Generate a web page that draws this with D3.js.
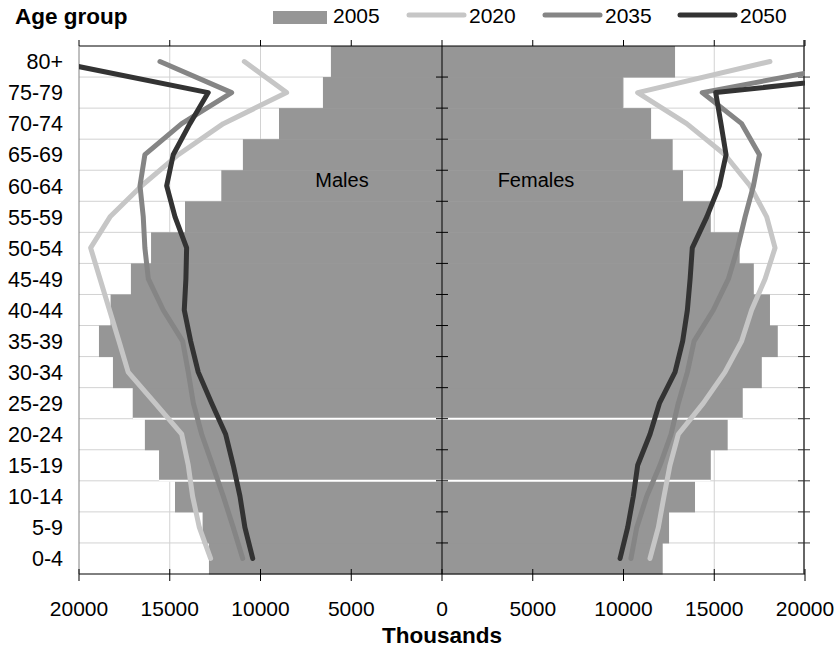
<!DOCTYPE html>
<html><head><meta charset="utf-8">
<script src="https://cdn.jsdelivr.net/npm/d3@7"></script>
<style>
body{margin:0;background:#fff;}
text{font-family:"Liberation Sans",Arial,sans-serif;}
</style></head>
<body><svg id="c" width="835" height="648"></svg>
<script>
const ages = ["0-4","5-9","10-14","15-19","20-24","25-29","30-34","35-39","40-44","45-49","50-54","55-59","60-64","65-69","70-74","75-79","80+"];
const male2005   = [12840,13190,14710,15590,16370,17040,18130,18900,18260,17140,16030,14160,12160,10970,8980,6560,6120];
const female2005 = [12160,12510,13940,14810,15740,16570,17620,18500,18070,17180,16400,14810,13280,12710,11520,9970,12840];
const male2020   = [12750,13370,13740,13980,14340,15810,17290,17800,18320,18840,19360,18290,16550,14530,12050,8560,10890];
const female2020 = [11460,11920,12230,12560,13020,14400,15590,16510,17060,17800,18350,17890,16970,15590,13480,10780,18070];
const male2035   = [10980,11500,12050,12640,13240,13700,13980,14290,15360,16180,16370,16460,16640,16370,14340,11590,15540];
const female2035 = [10410,10730,11280,12010,12620,13020,13520,13890,14950,15780,16290,16700,17160,17490,16510,14340,23400];
const male2050   = [10430,10860,11130,11500,11920,12690,13430,13850,14200,14110,14070,14710,15170,14810,13890,12880,21400];
const female2050 = [9810,10230,10540,10780,11460,11980,12840,13260,13520,13670,13790,14590,15280,15650,15370,15080,31000];
const xTicks = [-20000,-15000,-10000,-5000,0,5000,10000,15000,20000];
const years = ["2005","2020","2035","2050"];
const lineSeries = [
  {year:"2020", male:male2020, female:female2020, color:"#c6c6c6"},
  {year:"2035", male:male2035, female:female2035, color:"#858585"},
  {year:"2050", male:male2050, female:female2050, color:"#333333"}
];
const splitAfter = ["25-29","15-19"];

const svg = d3.select("#c");
const L=79, R=805, T=46, B=574;
const x = d3.scaleLinear().domain([-20000,20000]).range([L,R]);
const y = d3.scaleBand().domain(ages.slice().reverse()).range([T,B]).paddingInner(0).paddingOuter(0);
const bw = y.bandwidth();
const cy = a => y(a)+bw/2;

// grid
const g = svg.append("g");
g.selectAll(".vg").data(xTicks.filter(v=>v!==0 && Math.abs(v)!==20000)).join("line")
  .attr("x1",d=>x(d)).attr("x2",d=>x(d)).attr("y1",T).attr("y2",B)
  .attr("stroke","#d2d2d2").attr("stroke-width",1);
g.selectAll(".hg").data(ages.slice(0,-1)).join("line")
  .attr("x1",L).attr("x2",R).attr("y1",d=>y(d)).attr("y2",d=>y(d))
  .attr("stroke","#d2d2d2").attr("stroke-width",1);

// bars
const bars = svg.append("g");
bars.selectAll(".bm").data(ages).join("rect")
  .attr("x",(d,i)=>x(-male2005[i])).attr("width",(d,i)=>x(0)-x(-male2005[i]))
  .attr("y",d=>y(d)).attr("height",bw+0.5).attr("fill","#969696");
bars.selectAll(".bf").data(ages).join("rect")
  .attr("x",x(0)).attr("width",(d,i)=>x(female2005[i])-x(0))
  .attr("y",d=>y(d)).attr("height",bw+0.5).attr("fill","#969696");
bars.selectAll(".sp").data(splitAfter).join("line")
  .attr("x1",d=>x(-male2005[ages.indexOf(d)])).attr("x2",d=>x(female2005[ages.indexOf(d)]))
  .attr("y1",d=>y(d)+bw).attr("y2",d=>y(d)+bw)
  .attr("stroke","#fff").attr("stroke-width",2);

// axes
const ax = svg.append("g");
ax.append("line").attr("x1",L).attr("x2",R).attr("y1",T).attr("y2",T).attr("stroke","#000");
ax.append("line").attr("x1",L).attr("x2",R).attr("y1",B).attr("y2",B).attr("stroke","#000");
ax.append("line").attr("x1",L).attr("x2",L).attr("y1",T).attr("y2",B).attr("stroke","#808080");
ax.append("line").attr("x1",x(0)).attr("x2",x(0)).attr("y1",T).attr("y2",B).attr("stroke","#000");
ax.append("line").attr("x1",R-1).attr("x2",R-1).attr("y1",T-6).attr("y2",B).attr("stroke","#333").attr("stroke-width",1.5);
ax.selectAll(".tt").data(xTicks).join("line")
  .attr("x1",d=>x(d)).attr("x2",d=>x(d)).attr("y1",T-6).attr("y2",T).attr("stroke","#000");
ax.selectAll(".bt").data(xTicks).join("line")
  .attr("x1",d=>x(d)).attr("x2",d=>x(d)).attr("y1",B-5).attr("y2",B+7).attr("stroke","#000");
const bounds = ages.slice(0,-1).map(a=>y(a));
ax.selectAll(".ct").data(bounds).join("line")
  .attr("x1",x(0)-6).attr("x2",x(0)+6).attr("y1",d=>d).attr("y2",d=>d).attr("stroke","#000");
ax.selectAll(".rt").data(bounds).join("line")
  .attr("x1",R-7).attr("x2",R+5).attr("y1",d=>d).attr("y2",d=>d).attr("stroke","#333");
ax.selectAll(".xl").data(xTicks).join("text")
  .attr("x",d=>x(d)).attr("y",B+42).attr("text-anchor","middle")
  .attr("font-size",21).text(d=>Math.abs(d));
ax.selectAll(".yl").data(ages).join("text")
  .attr("x",63).attr("y",d=>cy(d)).attr("dy","0.36em").attr("text-anchor","end")
  .attr("font-size",21.5).text(d=>d);
svg.append("text").attr("x",x(0)).attr("y",643).attr("text-anchor","middle")
  .attr("font-size",22.5).attr("font-weight","bold").text("Thousands");
svg.append("text").attr("x",15).attr("y",24).attr("font-size",22.5).attr("font-weight","bold").text("Age group");
svg.append("text").attr("x",342).attr("y",187).attr("text-anchor","middle").attr("font-size",20).text("Males");
svg.append("text").attr("x",536).attr("y",187).attr("text-anchor","middle").attr("font-size",20).text("Females");

// lines
svg.append("clipPath").attr("id","clip").append("rect").attr("x",L).attr("y",T).attr("width",R-L).attr("height",B-T);
const lg = svg.append("g").attr("clip-path","url(#clip)");
lineSeries.forEach(s=>{
  const mk = side => d3.line().x((d,i)=>x(side==="m"?-d:d)).y((d,i)=>cy(ages[i]));
  lg.append("path").attr("d",mk("m")(s.male)).attr("fill","none").attr("stroke",s.color)
    .attr("stroke-width",5).attr("stroke-linecap","round").attr("stroke-linejoin","round");
  lg.append("path").attr("d",mk("f")(s.female)).attr("fill","none").attr("stroke",s.color)
    .attr("stroke-width",5).attr("stroke-linecap","round").attr("stroke-linejoin","round");
});

// legend
const leg = svg.append("g");
const legX = [273, 407, 543, 678];
leg.append("rect").attr("x",legX[0]).attr("y",11).attr("width",54).attr("height",13).attr("fill","#969696");
leg.append("text").attr("x",legX[0]+60).attr("y",23).attr("font-size",21).text(years[0]);
lineSeries.forEach((s,i)=>{
  const lx = legX[i+1];
  leg.append("line").attr("x1",lx+2).attr("x2",lx+57).attr("y1",15).attr("y2",15)
    .attr("stroke",s.color).attr("stroke-width",5).attr("stroke-linecap","round");
  leg.append("text").attr("x",lx+62).attr("y",23).attr("font-size",21).text(s.year);
});
</script></body></html>
